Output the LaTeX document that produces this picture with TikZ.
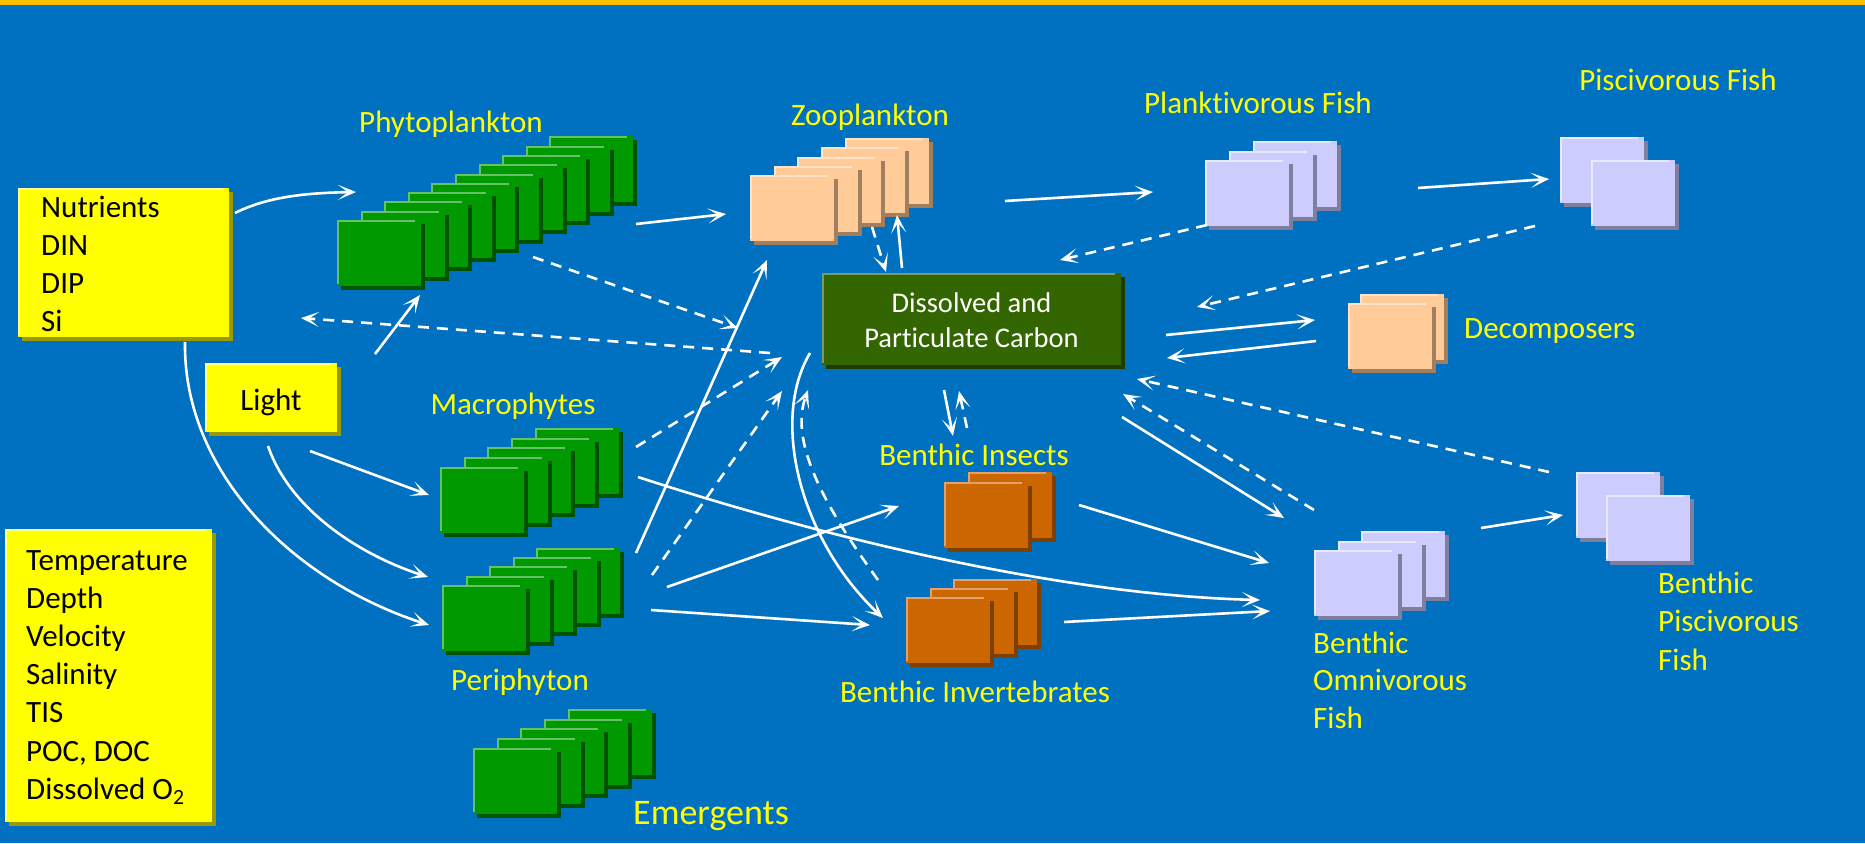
\documentclass[tikz,border=0pt]{standalone}
\usepackage{fontspec}
\setmainfont[Ligatures=CommonOff]{Carlito}
\usetikzlibrary{arrows.meta}

\definecolor{bg}{HTML}{0070C0}
\definecolor{topbar}{HTML}{FFC000}
\definecolor{yel}{HTML}{FFFF00}
\definecolor{yelshadow}{HTML}{9C9900}
\definecolor{yellight}{HTML}{FFFF99}
\definecolor{grn}{HTML}{009900}
\definecolor{grnshadow}{HTML}{005200}
\definecolor{grnlight}{HTML}{66C266}
\definecolor{peach}{HTML}{FFCC99}
\definecolor{peachshadow}{HTML}{A07E5E}
\definecolor{peachlight}{HTML}{FFE3C8}
\definecolor{lav}{HTML}{CCCCFF}
\definecolor{lavshadow}{HTML}{7E7E9E}
\definecolor{lavlight}{HTML}{E8E8FF}
\definecolor{org}{HTML}{CC6600}
\definecolor{orgshadow}{HTML}{7F3F00}
\definecolor{orglight}{HTML}{E0A070}
\definecolor{dpc}{HTML}{336600}
\definecolor{dpcshadow}{HTML}{1F3D00}
\definecolor{dpclight}{HTML}{7A9A6A}

% one card: x, y (top left), width, height, colour prefix
\newcommand\card[5]{%
  \fill[#5shadow] ({#1+4},{#2+4}) rectangle ++(#3,#4);
  \fill[#5] (#1,#2) rectangle ++(#3,#4);
  \draw[#5light, line width=2pt] ({#1+1},{#2+#4-2}) -- ({#1+1},{#2+1}) -- ({#1+#3-6},{#2+1});
}
% a pile of cards: index list (back first), front x, front y, step x, step y, colour
\newcommand\pile[6]{%
  \foreach \i in {#1} {%
    \pgfmathsetmacro\cardx{#2+\i*(#4)}%
    \pgfmathsetmacro\cardy{#3+\i*(#5)}%
    \card{\cardx}{\cardy}{84}{66}{#6}}%
}

\tikzset{
  lbl/.style={text=yel, font=\fontsize{31}{38}\selectfont, inner sep=0pt},
  txt/.style={text=black, font=\fontsize{31}{38}\selectfont, inner sep=0pt, anchor=base west},
  flow/.style={white, line width=2.6pt, -{Stealth[length=18pt, width=15pt, inset=10pt]}},
  back/.style={flow, dash pattern=on 11pt off 8pt},
}

\begin{document}
\begin{tikzpicture}[x=1pt, y=-1pt]
\useasboundingbox (0,0) rectangle (1865,843);
\fill[bg] (0,0) rectangle (1865,843);
\fill[topbar] (0,0) rectangle (1865,5);

% ---------- driver boxes ----------
\card{18}{188}{211}{149}{yel}
\foreach \t [count=\k] in {Nutrients, DIN, DIP, Si}
  \node[txt] (nut\k) at (41,{217+(\k-1)*38.3}) {\t};

\card{205}{363}{132}{69}{yel}
\node[txt, anchor=base] (light) at (271,410) {Light};

\card{5}{529}{207}{293}{yel}
\foreach \t [count=\k] in {Temperature, Depth, Velocity, Salinity, TIS, {POC, DOC}, {Dissolved O\textsubscript{2}}}
  \node[txt] (env\k) at (26,{570+(\k-1)*38.2}) {\t};

% ---------- producers ----------
\pile{9,8,...,0}{337}{220}{23.6}{-9.3}{grn}
\node[lbl, anchor=base] (phyto) at (451,132) {Phytoplankton};

\pile{4,3,...,0}{440}{467}{23.7}{-9.8}{grn}
\node[lbl, anchor=base] (macro) at (513,414) {Macrophytes};

\pile{4,3,...,0}{442}{585}{23.5}{-9.3}{grn}
\node[lbl, anchor=base] (peri) at (520,690) {Periphyton};

\pile{4,3,...,0}{473}{748}{23.7}{-9.8}{grn}
\node[lbl, anchor=base, font=\fontsize{36}{40}\selectfont] (emerg) at (711,824) {Emergents};

% ---------- consumers ----------
\pile{4,3,...,0}{750}{175}{23.7}{-9.2}{peach}
\node[lbl, anchor=base] (zoo) at (870,125) {Zooplankton};

\pile{2,1,0}{1205}{160}{24}{-9.5}{lav}
\node[lbl, anchor=base] (plank) at (1258,113) {Planktivorous Fish};

\pile{1,0}{1591}{160}{-31}{-23}{lav}
\node[lbl, anchor=base] (pisc) at (1678,90) {Piscivorous Fish};

\pile{1,0}{1348}{303}{12}{-9}{peach}
\node[lbl, anchor=base west] (decomp) at (1464,338) {Decomposers};

\pile{1,0}{944}{482}{24}{-10}{org}
\node[lbl, anchor=base] (binsect) at (974,465) {Benthic Insects};

\pile{2,1,0}{906}{597}{23.5}{-9}{org}
\node[lbl, anchor=base] (binv) at (975,702) {Benthic Invertebrates};

\pile{2,1,0}{1314}{550}{23.5}{-9.5}{lav}
\foreach \t [count=\k] in {Benthic, Omnivorous, Fish}
  \node[lbl, anchor=base west] (bof\k) at (1313,{653+(\k-1)*37.5}) {\t};

\pile{1,0}{1606}{495}{-30}{-23}{lav}
\foreach \t [count=\k] in {Benthic, Piscivorous, Fish}
  \node[lbl, anchor=base west] (bpf\k) at (1658,{593+(\k-1)*38.5}) {\t};

% ---------- carbon pool ----------
\card{822}{273}{299}{92}{dpc}
\node[text=white, font=\fontsize{28.5}{35}\selectfont, anchor=base, inner sep=0pt] (dpc1) at (971.5,312) {Dissolved and};
\node[text=white, font=\fontsize{28.5}{35}\selectfont, anchor=base, inner sep=0pt] (dpc2) at (971.5,347) {Particulate Carbon};

% ---------- flow end points ----------
\coordinate (nut2phyS) at (235,213);   \coordinate (nut2phyE) at (356,192);
\coordinate (phy2zooS) at (636,224);   \coordinate (phy2zooE) at (726,214);
\coordinate (phy2dpcS) at (533,257);   \coordinate (phy2dpcE) at (738,328);
\coordinate (dpc2nutS) at (770,353);   \coordinate (dpc2nutE) at (301,318);
\coordinate (lig2phyS) at (375,354);   \coordinate (lig2phyE) at (420,295);
\coordinate (lig2macS) at (310,451);   \coordinate (lig2macE) at (429,495);
\coordinate (lig2perS) at (268,446);   \coordinate (lig2perE) at (428,577);
\coordinate (nut2perS) at (185,342);   \coordinate (nut2perE) at (429,625);
\coordinate (per2zooS) at (636,553);   \coordinate (per2zooE) at (767,260);
\coordinate (per2dpcS) at (652,575);   \coordinate (per2dpcE) at (782,391);
\coordinate (mac2dpcS) at (636,447);   \coordinate (mac2dpcE) at (782,357);
\coordinate (mac2bofS) at (638,477);   \coordinate (mac2bofE) at (1260,600);
\coordinate (per2bisS) at (667,587);   \coordinate (per2bisE) at (899,506);
\coordinate (per2binS) at (651,610);   \coordinate (per2binE) at (870,625);
\coordinate (dpc2binS) at (810,353);   \coordinate (dpc2binE) at (883,618);
\coordinate (bin2dpcS) at (878,580);   \coordinate (bin2dpcE) at (808,390);
\coordinate (zoo2dpcS) at (872,227);   \coordinate (zoo2dpcE) at (886,272);
\coordinate (dpc2zooS) at (902,268);   \coordinate (dpc2zooE) at (897,215);
\coordinate (dpc2bisS) at (944,390);   \coordinate (dpc2bisE) at (953,436);
\coordinate (bis2dpcS) at (967,428);   \coordinate (bis2dpcE) at (959,391);
\coordinate (zoo2plaS) at (1005,201);  \coordinate (zoo2plaE) at (1153,192);
\coordinate (pla2dpcS) at (1207,225);  \coordinate (pla2dpcE) at (1060,260);
\coordinate (pla2pisS) at (1418,188);  \coordinate (pla2pisE) at (1549,179);
\coordinate (pis2dpcS) at (1535,226);  \coordinate (pis2dpcE) at (1197,307);
\coordinate (dpc2decS) at (1166,335);  \coordinate (dpc2decE) at (1315,320);
\coordinate (dec2dpcS) at (1316,341);  \coordinate (dec2dpcE) at (1167,358);
\coordinate (bpf2dpcS) at (1549,472);  \coordinate (bpf2dpcE) at (1137,379);
\coordinate (bof2dpcS) at (1314,510);  \coordinate (bof2dpcE) at (1123,394);
\coordinate (dpc2bofS) at (1122,417);  \coordinate (dpc2bofE) at (1284,518);
\coordinate (bis2bofS) at (1079,505);  \coordinate (bis2bofE) at (1269,563);
\coordinate (bin2bofS) at (1064,622);  \coordinate (bin2bofE) at (1270,611);
\coordinate (bof2bpfS) at (1481,528);  \coordinate (bof2bpfE) at (1563,515);

% ---------- flows ----------
\draw[flow] (nut2phyS) .. controls (265,198) and (300,193) .. (nut2phyE);
\draw[flow] (nut2perS) .. controls (183,470) and (290,580) .. (nut2perE);
\draw[flow] (lig2phyS) -- (lig2phyE);
\draw[flow] (lig2macS) -- (lig2macE);
\draw[flow] (lig2perS) .. controls (290,510) and (360,555) .. (lig2perE);
\draw[flow] (phy2zooS) -- (phy2zooE);
\draw[back] (phy2dpcS) -- (phy2dpcE);
\draw[back] (dpc2nutS) -- (dpc2nutE);
\draw[flow] (per2zooS) -- (per2zooE);
\draw[back] (per2dpcS) -- (per2dpcE);
\draw[back] (mac2dpcS) -- (mac2dpcE);
\draw[flow] (mac2bofS) .. controls (800,530) and (1050,595) .. (mac2bofE);
\draw[flow] (per2bisS) -- (per2bisE);
\draw[flow] (per2binS) -- (per2binE);
\draw[flow] (dpc2binS) .. controls (770,420) and (800,540) .. (dpc2binE);
\draw[back] (bin2dpcS) .. controls (820,500) and (790,440) .. (bin2dpcE);
\draw[back] (zoo2dpcS) -- (zoo2dpcE);
\draw[flow] (dpc2zooS) -- (dpc2zooE);
\draw[flow] (dpc2bisS) -- (dpc2bisE);
\draw[back] (bis2dpcS) -- (bis2dpcE);
\draw[flow] (zoo2plaS) -- (zoo2plaE);
\draw[back] (pla2dpcS) -- (pla2dpcE);
\draw[flow] (pla2pisS) -- (pla2pisE);
\draw[back] (pis2dpcS) -- (pis2dpcE);
\draw[flow] (dpc2decS) -- (dpc2decE);
\draw[flow] (dec2dpcS) -- (dec2dpcE);
\draw[back] (bpf2dpcS) -- (bpf2dpcE);
\draw[back] (bof2dpcS) -- (bof2dpcE);
\draw[flow] (dpc2bofS) -- (dpc2bofE);
\draw[flow] (bis2bofS) -- (bis2bofE);
\draw[flow] (bin2bofS) -- (bin2bofE);
\draw[flow] (bof2bpfS) -- (bof2bpfE);
\end{tikzpicture}
\end{document}
